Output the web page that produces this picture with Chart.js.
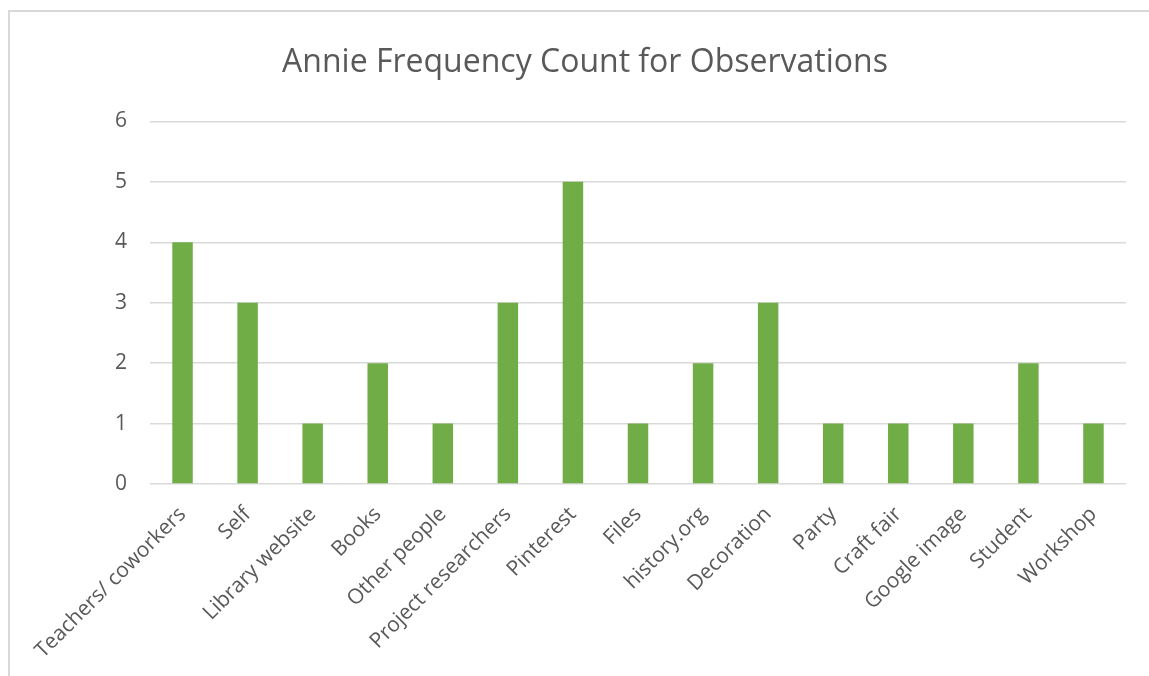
<!DOCTYPE html>
<html>
<head>
<meta charset="utf-8">
<script src="https://cdn.jsdelivr.net/npm/chart.js@4.4.1/dist/chart.umd.min.js"></script>
<style>
  html, body { margin: 0; padding: 0; background: #ffffff; overflow: hidden; width: 1149px; height: 676px; }
  #frame {
    position: absolute; left: 8px; top: 10px; width: 1160px; height: 700px;
    border-left: 2px solid #d9d9d9; border-top: 2px solid #d9d9d9;
  }
  #wrap { position: absolute; left: 0; top: 0; width: 1170px; height: 676px; }
</style>
</head>
<body>
<div id="frame"></div>
<div id="wrap"><canvas id="chart" width="1170" height="676"></canvas></div>
<script>
const chartTitle = 'Annie Frequency Count for Observations';
const categories = [
  'Teachers/ coworkers', 'Self', 'Library website', 'Books', 'Other people',
  'Project researchers', 'Pinterest', 'Files', 'history.org', 'Decoration',
  'Party', 'Craft fair', 'Google image', 'Student', 'Workshop'
];
const counts = [4, 3, 1, 2, 1, 3, 5, 1, 2, 3, 1, 1, 1, 2, 1];
const yTicks = [0, 1, 2, 3, 4, 5, 6];

const FONT = "'Open Sans', sans-serif";
const TEXT = '#595959';

new Chart(document.getElementById('chart'), {
  type: 'bar',
  data: {
    labels: categories,
    datasets: [{
      label: 'Count',
      data: counts,
      backgroundColor: '#70ad47',
      borderWidth: 0,
      categoryPercentage: 1.0,
      barPercentage: 0.315
    }]
  },
  options: {
    responsive: false,
    animation: false,
    layout: { padding: { left: 44, right: 44, top: 0, bottom: 0 } },
    plugins: {
      legend: { display: false },
      tooltip: { enabled: false },
      title: {
        display: true,
        text: chartTitle,
        color: TEXT,
        font: { family: FONT, size: 32, weight: 'normal' },
        padding: { top: 44, bottom: 39 }
      }
    },
    scales: {
      x: {
        grid: { display: false, drawTicks: false },
        border: { display: false },
        ticks: {
          color: TEXT,
          font: { family: FONT, size: 21 },
          minRotation: 45,
          maxRotation: 45,
          padding: 18,
          autoSkip: false
        },
        afterFit(scale) { scale.height = 676 - 484; }
      },
      y: {
        min: 0,
        max: 6,
        afterBuildTicks(scale) { scale.ticks = yTicks.map(v => ({ value: v })); },
        grid: { color: '#d9d9d9', lineWidth: 1.5, drawTicks: false },
        border: { display: false },
        ticks: {
          color: TEXT,
          font: { family: FONT, size: 21 },
          padding: 23
        },
        afterFit(scale) { scale.width = 106; }
      }
    }
  }
});
</script>
</body>
</html>
